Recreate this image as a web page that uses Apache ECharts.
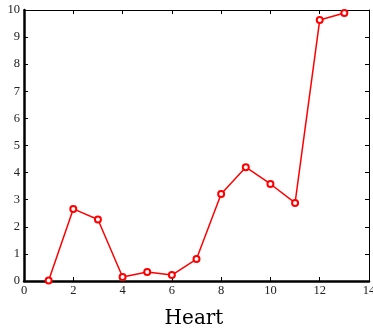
<!DOCTYPE html>
<html>
<head>
<meta charset="utf-8">
<title>Heart</title>
<script src="https://cdn.jsdelivr.net/npm/echarts@6/dist/echarts.min.js"></script>
<style>
  html, body { margin: 0; padding: 0; background: #fff; }
  #chart { width: 373px; height: 333px; }
</style>
</head>
<body>
<div id="chart"></div>
<script>
// data
var xValues = [1, 2, 3, 4, 5, 6, 7, 8, 9, 10, 11, 12, 13];
var yValues = [0.02, 2.66, 2.27, 0.15, 0.33, 0.22, 0.81, 3.21, 4.2, 3.58, 2.88, 9.63, 9.89];
var titleText = 'Heart';

var points = [];
for (var i = 0; i < xValues.length; i++) {
  points.push([xValues[i], yValues[i]]);
}

var chart = echarts.init(document.getElementById('chart'));
var tickFont = { fontFamily: 'Liberation Serif', fontSize: 12.5, color: '#222' };

chart.setOption({
  animation: false,
  title: {
    text: titleText,
    left: 189,
    top: 304,
    textAlign: 'center',
    textStyle: { fontFamily: 'DejaVu Serif', fontSize: 20, fontWeight: 'normal', color: '#000' }
  },
  grid: { left: 24, right: 4, top: 10, bottom: 52, containLabel: false, outerBoundsMode: 'none' },
  xAxis: [
    {
      type: 'value', min: 0, max: 14, interval: 2, position: 'bottom',
      axisLine: { onZero: false, lineStyle: { color: '#000', width: 2.5 } },
      axisTick: { inside: true, length: 4, lineStyle: { color: '#000', width: 1 } },
      axisLabel: Object.assign({ margin: 3 }, tickFont),
      splitLine: { show: false }
    },
    {
      type: 'value', min: 0, max: 14, interval: 2, position: 'top',
      axisLine: { onZero: false, lineStyle: { color: '#000', width: 1 } },
      axisTick: { inside: true, length: 4, lineStyle: { color: '#000', width: 1 } },
      axisLabel: { show: false },
      splitLine: { show: false }
    }
  ],
  yAxis: [
    {
      type: 'value', min: 0, max: 10, interval: 1, position: 'left',
      axisLine: { show: true, onZero: false, lineStyle: { color: '#000', width: 2.5 } },
      axisTick: { show: true, inside: true, length: 4, lineStyle: { color: '#000', width: 1 } },
      axisLabel: Object.assign({ margin: 4 }, tickFont),
      splitLine: { show: false }
    },
    {
      type: 'value', min: 0, max: 10, interval: 1, position: 'right',
      axisLine: { show: true, onZero: false, lineStyle: { color: '#000', width: 1 } },
      axisTick: { show: true, inside: true, length: 4, lineStyle: { color: '#000', width: 1 } },
      axisLabel: { show: false },
      splitLine: { show: false }
    }
  ],
  series: [
    {
      type: 'line',
      xAxisIndex: 0,
      yAxisIndex: 0,
      data: points,
      clip: false,
      symbol: 'emptyCircle',
      symbolSize: 6,
      lineStyle: { color: '#ff0000', width: 1.5 },
      itemStyle: { color: '#ff0000', borderColor: '#ff0000', borderWidth: 1 }
    }
  ]
});
</script>
</body>
</html>
